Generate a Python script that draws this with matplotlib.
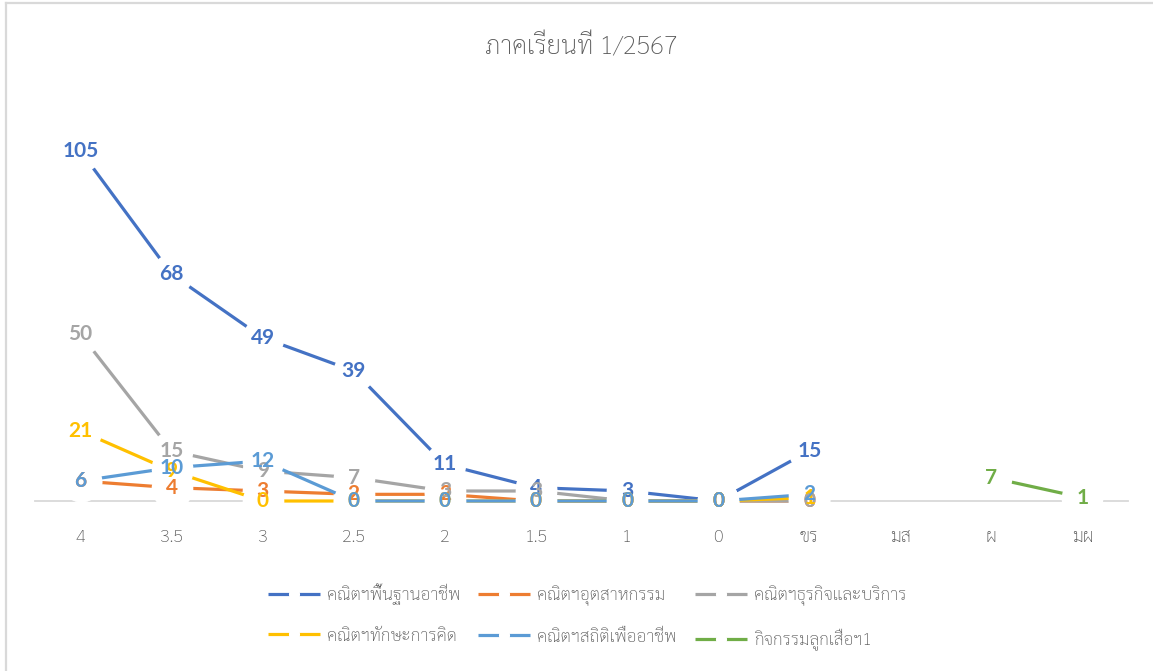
import matplotlib
matplotlib.use("Agg")
import matplotlib.pyplot as plt
from matplotlib.lines import Line2D
import numpy as np

nan = np.nan

# grade categories along the x axis
categories = ["4", "3.5", "3", "2.5", "2", "1.5", "1", "0", "ขร", "มส", "ผ", "มผ"]

# number of students per grade, one list per course (nan = blank cell)
basic_career = [105, 68, 49, 39, 11, 4, 3, 0, 15, nan, nan, nan]
industry = [6, 4, 3, 2, 2, 0, 0, 0, 0, nan, nan, nan]
business = [50, 15, 9, 7, 3, 3, 0, 0, 0, nan, nan, nan]
thinking = [21, 9, 0, 0, 0, 0, 0, 0, 1, nan, nan, nan]
statistics = [6, 10, 12, 0, 0, 0, 0, 0, 2, nan, nan, nan]
scout = [nan, nan, nan, nan, nan, nan, nan, nan, nan, nan, 7, 1]

series_names = ["คณิตฯพื้นฐานอาชีพ", "คณิตฯอุตสาหกรรม", "คณิตฯธุรกิจและบริการ",
                "คณิตฯทักษะการคิด", "คณิตฯสถิติเพื่ออาชีพ", "กิจกรรมลูกเสือฯ1"]
series_values = [basic_career, industry, business, thinking, statistics, scout]
colors = ["#4472C4", "#ED7D31", "#A5A5A5", "#FFC000", "#5B9BD5", "#70AD47"]

plt.rcParams["font.family"] = ["Sarabun", "DejaVu Sans"]
text_gray = "#595959"

W, H = 1153, 671
fig = plt.figure(figsize=(W / 100, H / 100), dpi=100)
ax = fig.add_axes([35 / W, (H - 501) / H, (1128 - 35) / W, 400 / H])

x = np.arange(len(categories))
lines = []
for i, (name, vals, c) in enumerate(zip(series_names, series_values, colors)):
    # big white markers leave the gaps round each point, as in the original
    ln, = ax.plot(x, vals, color=c, lw=2.3, marker="o", markersize=30,
                  markerfacecolor="white", markeredgewidth=0,
                  solid_capstyle="butt", label=name, clip_on=False, zorder=3 + i)
    lines.append(ln)

# data labels on top of everything
for i, (vals, c) in enumerate(zip(series_values, colors)):
    for xi, v in zip(x, vals):
        if np.isnan(v):
            continue
        ax.text(xi, v, f"{v:g}", color=c, fontsize=15, fontweight="bold",
                family=["Lato", "DejaVu Sans"], ha="center", va="center",
                zorder=20 + i)

ax.set_xlim(-0.5, len(categories) - 0.5)
ax.set_ylim(0, 120)
ax.set_xticks(x)
ax.set_xticklabels(categories, fontsize=13, color=text_gray, fontweight="light")
ax.tick_params(axis="x", length=0, pad=20)
ax.set_yticks([])
for s in ["top", "left", "right"]:
    ax.spines[s].set_visible(False)
ax.spines["bottom"].set_color("#D9D9D9")
ax.spines["bottom"].set_linewidth(1.3)
ax.spines["bottom"].set_zorder(1)
ax.patch.set_visible(False)

fig.text(581 / W, 1 - 47 / H, "ภาคเรียนที่ 1/2567", fontsize=18.5,
         color=text_gray, ha="center", va="center", fontweight="light")

# legend is filled row by row in the original, matplotlib fills by column
order = [0, 3, 1, 4, 2, 5]
leg = fig.legend(handles=[lines[k] for k in order], loc="center",
                 bbox_to_anchor=(587 / W, 1 - 617 / H),
                 ncol=3, frameon=False, labelcolor=text_gray,
                 prop={"weight": "light", "size": 12.5},
                 handlelength=3.0, handletextpad=0.4, columnspacing=1.05,
                 labelspacing=1.3, numpoints=1)
for h in leg.legend_handles:
    h.set_markersize(8)
    h.set_linewidth(2.3)

# chart area border (only the top and left edges show)
fig.add_artist(Line2D([5.5 / W, 5.5 / W], [0, 1 - 2.5 / H], color="#D9D9D9", lw=1.6))
fig.add_artist(Line2D([5.5 / W, 1], [1 - 2.5 / H, 1 - 2.5 / H], color="#D9D9D9", lw=1.6))

fig.savefig("out.png", dpi=100, facecolor="white")
